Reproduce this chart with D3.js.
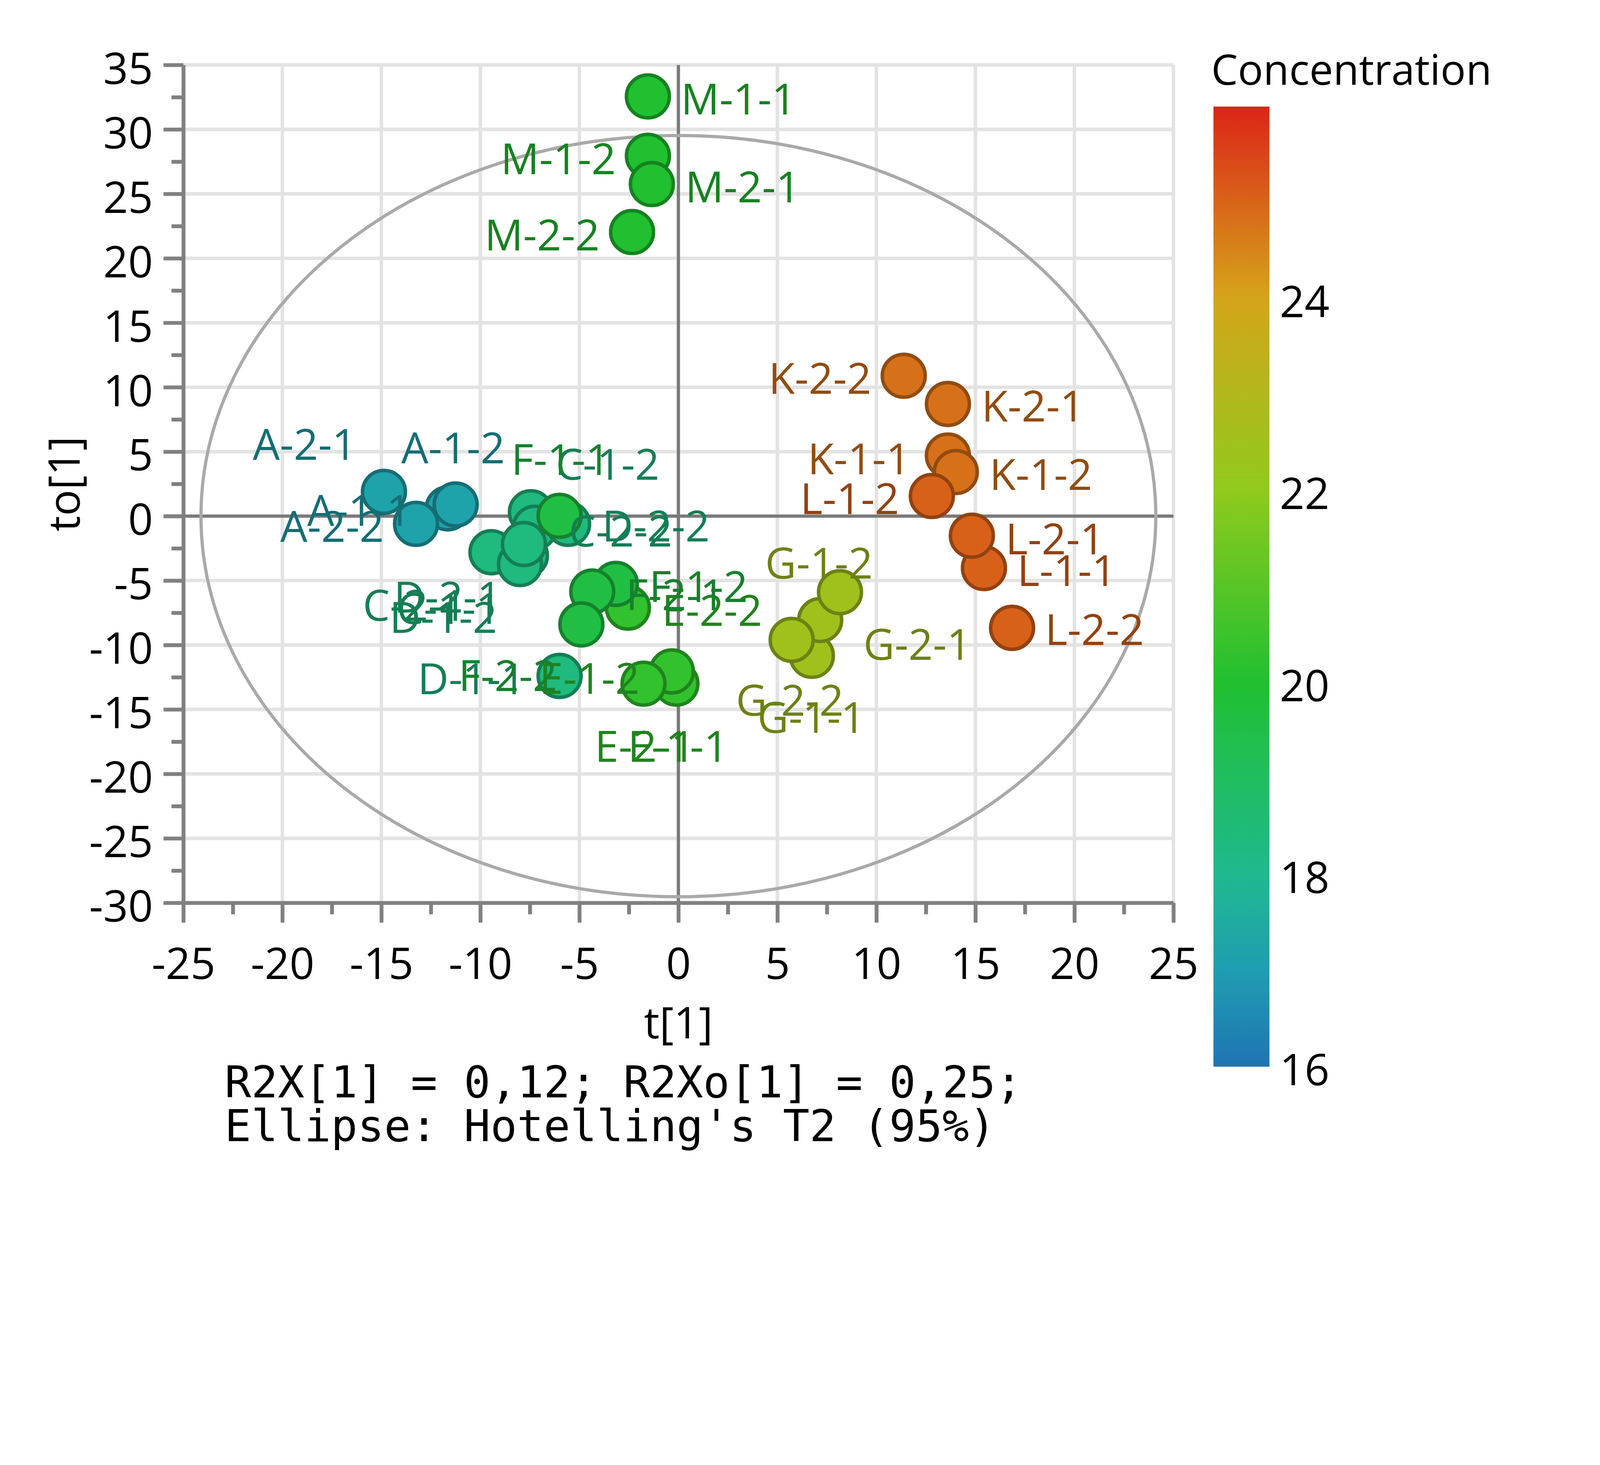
<!DOCTYPE html>
<html>
<head>
<meta charset="utf-8">
<script src="https://cdn.jsdelivr.net/npm/d3@7"></script>
<style>
  html, body { margin: 0; padding: 0; background: #fff; overflow: hidden; }
  svg { display: block; width: 100vw; height: 75vw; }
</style>
</head>
<body>
<svg id="chart" viewBox="0 0 5000 3750" preserveAspectRatio="xMidYMin meet"></svg>
<script>
/*
Data
*/

// samples in drawing order (later ones sit on top)
const sampleNames = [
  "A-2-1", "A-1-1", "A-1-2", "A-2-2",
  "C-1-2", "C-2-2", "D-2-2", "C-2-1", "C-1-1", "D-1-2", "D-2-1", "D-1-1",
  "E-2-2", "E-1-1", "E-2-1", "E-1-2",
  "F-1-1", "F-1-2", "F-2-1", "F-2-2",
  "G-1-1", "G-2-1", "G-2-2", "G-1-2",
  "K-2-2", "K-2-1", "K-1-1", "K-1-2",
  "L-1-2", "L-1-1", "L-2-1", "L-2-2",
  "M-1-1", "M-1-2", "M-2-1", "M-2-2"
];

// t[1]
const tScores = [
  -14.87, -11.65, -11.25, -13.25,
  -7.45, -7.25, -5.57, -9.44, -7.70, -8.00, -7.80, -6.00,
  -2.55, -0.10, -0.33, -1.76,
  -6.00, -3.16, -4.35, -4.90,
  6.74, 7.16, 5.72, 8.16,
  11.38, 13.61, 13.61, 14.01,
  12.80, 15.43, 14.82, 16.85,
  -1.54, -1.54, -1.34, -2.34
];

// to[1]
const toScores = [
  1.88, 0.60, 0.90, -0.60,
  0.30, -0.90, -0.60, -2.80, -3.06, -3.72, -2.17, -12.40,
  -7.10, -13.00, -12.05, -13.00,
  0.02, -5.26, -5.85, -8.40,
  -10.84, -8.06, -9.60, -5.90,
  10.89, 8.70, 4.70, 3.42,
  1.56, -4.03, -1.52, -8.67,
  32.56, 27.95, 25.76, 22.04
];

const concentration = [
  17.2, 17.2, 17.2, 17.2,
  18.35, 18.35, 18.35, 18.35, 18.35, 18.35, 18.35, 18.35,
  20.3, 20.3, 20.3, 20.3,
  19.6, 19.6, 19.6, 19.6,
  22.5, 22.5, 22.5, 22.5,
  24.8, 24.8, 24.8, 24.8,
  25.05, 25.05, 25.05, 25.05,
  20.0, 20.0, 20.0, 20.0
];

const xTicks = [-25, -20, -15, -10, -5, 0, 5, 10, 15, 20, 25];
const yTicks = [-30, -25, -20, -15, -10, -5, 0, 5, 10, 15, 20, 25, 30, 35];
const colorbarTicks = [16, 18, 20, 22, 24];
const colorStops = [16, 17, 18, 20, 22, 24, 26];
const colorRange = ["#1f74b2", "#1f9db2", "#1fb98f", "#20c030", "#8fca1c", "#d4a51a", "#dc2418"];

const footerLines = [
  "R2X[1] = 0,12; R2Xo[1] = 0,25;",
  "Ellipse: Hotelling's T2 (95%)"
];

/*
Layout
*/

const W = 5000, H = 3750;
const plot = { left: 573, right: 3667, top: 203, bottom: 2821 };
const cbar = { x: 3792, w: 175, top: 333, bottom: 3333 };
const fontSans = "'Open Sans', 'Noto Sans', sans-serif";
const markerR = 67;

// label anchor and offset from the marker centre, in px
const labelPlacement = {
  "A-2-1": ["start", -410, -100], "A-1-1": ["start", -439, 55],
  "A-1-2": ["start", -170, -129], "A-2-2": ["end", -100, 56],
  "C-1-2": ["start", 78, -101],   "C-2-2": ["start", 106, 59],
  "D-2-2": ["start", 106, 55],    "C-2-1": ["start", -402, 214],
  "C-1-1": ["start", -404, 214],  "D-1-2": ["start", -408, 215],
  "D-2-1": ["start", -407, 214],  "D-1-1": ["end", -107, 57],
  "E-2-2": ["start", 106, 57],    "E-1-1": ["start", -152, 244],
  "E-2-1": ["start", -241, 282],  "E-1-2": ["start", -326, 32],
  "F-1-1": ["start", -151, -128], "F-1-2": ["start", 104, 57],
  "F-2-1": ["start", 105, 58],    "F-2-2": ["start", -384, 209],
  "G-1-1": ["start", -170, 241],  "G-2-1": ["start", 135, 125],
  "G-2-2": ["start", -174, 237],  "G-1-2": ["start", -234, -43],
  "K-2-2": ["end", -101, 57],     "K-2-1": ["start", 105, 55],
  "K-1-1": ["end", -117, 58],     "K-1-2": ["start", 105, 56],
  "L-1-2": ["end", -102, 56],     "L-1-1": ["start", 104, 56],
  "L-2-1": ["start", 105, 58],    "L-2-2": ["start", 103, 54],
  "M-1-1": ["start", 103, 56],    "M-1-2": ["end", -100, 57],
  "M-2-1": ["start", 104, 57],    "M-2-2": ["end", -101, 57]
};

/*
Scales
*/

const x = d3.scaleLinear().domain([-25, 25]).range([plot.left, plot.right]);
const y = d3.scaleLinear().domain([-30, 35]).range([plot.bottom, plot.top]);
const color = d3.scaleLinear().domain(colorStops).range(colorRange);
const cScale = d3.scaleLinear().domain([16, 26]).range([cbar.bottom, cbar.top]);

const samples = sampleNames.map((name, i) => ({
  name: name, t: tScores[i], to: toScores[i], c: concentration[i]
}));

/*
Draw
*/

const svg = d3.select("#chart");
svg.append("rect").attr("width", W).attr("height", H).attr("fill", "#fff");

// grid
const grid = svg.append("g").attr("stroke", "#e3e3e3").attr("stroke-width", 11);
grid.selectAll(".gx").data(xTicks).join("line")
  .attr("x1", d => x(d)).attr("x2", d => x(d))
  .attr("y1", plot.top).attr("y2", plot.bottom);
grid.selectAll(".gy").data(yTicks).join("line")
  .attr("y1", d => y(d)).attr("y2", d => y(d))
  .attr("x1", plot.left).attr("x2", plot.right);

// zero lines
svg.append("line")
  .attr("x1", x(0)).attr("x2", x(0)).attr("y1", plot.top).attr("y2", plot.bottom)
  .attr("stroke", "#7a7a7a").attr("stroke-width", 10);
svg.append("line")
  .attr("x1", plot.left).attr("x2", plot.right).attr("y1", y(0)).attr("y2", y(0))
  .attr("stroke", "#7a7a7a").attr("stroke-width", 10);

// Hotelling's T2 ellipse
svg.append("ellipse")
  .attr("cx", x(0)).attr("cy", y(0))
  .attr("rx", x(24.11) - x(0)).attr("ry", y(0) - y(29.53))
  .attr("fill", "none").attr("stroke", "#a9a9a9").attr("stroke-width", 10);

// axes
function styleAxis(g) {
  g.select(".domain").attr("stroke", "#808080").attr("stroke-width", 12);
  g.selectAll(".tick line").attr("stroke", "#808080").attr("stroke-width", 12);
  g.selectAll(".tick text")
    .attr("fill", "#000")
    .style("font-family", fontSans)
    .style("font-size", "136px");
}

const minorX = d3.range(-22.5, 25, 5);
const minorY = d3.range(-27.5, 35, 5);

svg.append("g")
  .attr("transform", `translate(0,${plot.bottom})`)
  .call(d3.axisBottom(x).tickValues(minorX).tickSize(36).tickFormat(""))
  .call(g => g.select(".domain").remove())
  .call(g => g.selectAll(".tick line").attr("stroke", "#808080").attr("stroke-width", 12));

svg.append("g")
  .attr("transform", `translate(${plot.left},0)`)
  .call(d3.axisLeft(y).tickValues(minorY).tickSize(37).tickFormat(""))
  .call(g => g.select(".domain").remove())
  .call(g => g.selectAll(".tick line").attr("stroke", "#808080").attr("stroke-width", 12));

svg.append("g")
  .attr("transform", `translate(0,${plot.bottom})`)
  .call(d3.axisBottom(x).tickValues(xTicks).tickSize(62).tickSizeOuter(0)
    .tickPadding(79).tickFormat(d => String(d)))
  .call(styleAxis);

svg.append("g")
  .attr("transform", `translate(${plot.left},0)`)
  .call(d3.axisLeft(y).tickValues(yTicks).tickSize(62).tickSizeOuter(0)
    .tickPadding(33).tickFormat(d => String(d)))
  .call(styleAxis)
  .call(g => g.selectAll(".tick text").attr("dy", "0.43em"));

// axis titles
svg.append("text")
  .attr("x", x(0)).attr("y", 3245)
  .attr("text-anchor", "middle")
  .style("font-family", fontSans).style("font-size", "136px")
  .text("t[1]");

svg.append("text")
  .attr("transform", `translate(249,${(plot.top + plot.bottom) / 2}) rotate(-90)`)
  .attr("text-anchor", "middle")
  .style("font-family", fontSans).style("font-size", "136px")
  .text("to[1]");

// markers
svg.append("g").selectAll("circle").data(samples).join("circle")
  .attr("cx", d => x(d.t)).attr("cy", d => y(d.to))
  .attr("r", markerR)
  .attr("fill", d => color(d.c))
  .attr("stroke", d => d3.color(color(d.c)).darker(1.1))
  .attr("stroke-width", 11);

// sample labels
svg.append("g").selectAll("text").data(samples).join("text")
  .attr("x", d => x(d.t) + labelPlacement[d.name][1])
  .attr("y", d => y(d.to) + labelPlacement[d.name][2])
  .attr("text-anchor", d => labelPlacement[d.name][0])
  .attr("fill", d => d3.color(color(d.c)).darker(1.1))
  .style("font-family", fontSans).style("font-size", "134px")
  .text(d => d.name);

// colour bar
const grad = svg.append("defs").append("linearGradient")
  .attr("id", "cbarGrad")
  .attr("x1", 0).attr("y1", 1).attr("x2", 0).attr("y2", 0);
grad.selectAll("stop").data(d3.range(16, 26.001, 0.25)).join("stop")
  .attr("offset", d => (d - 16) / 10)
  .attr("stop-color", d => color(d));

svg.append("rect")
  .attr("x", cbar.x).attr("y", cScale(26))
  .attr("width", cbar.w).attr("height", cScale(16) - cScale(26))
  .attr("fill", "url(#cbarGrad)");

svg.append("g")
  .attr("transform", `translate(${cbar.x + cbar.w},0)`)
  .call(d3.axisRight(cScale).tickValues(colorbarTicks).tickSize(0)
    .tickPadding(32).tickFormat(d => String(d)))
  .call(g => g.select(".domain").remove())
  .call(g => g.selectAll(".tick text")
    .attr("fill", "#000").attr("dy", "0.42em")
    .style("font-family", fontSans).style("font-size", "136px"));

svg.append("text")
  .attr("x", 3785).attr("y", 265)
  .style("font-family", fontSans).style("font-size", "132px")
  .text("Concentration");

// footer
svg.append("g").selectAll("text").data(footerLines).join("text")
  .attr("x", 702)
  .attr("y", (d, i) => 3429 + i * 137)
  .attr("xml:space", "preserve")
  .style("font-family", "'DejaVu Sans Mono', 'Liberation Mono', monospace")
  .style("font-size", "138px")
  .text(d => d);
</script>
</body>
</html>
